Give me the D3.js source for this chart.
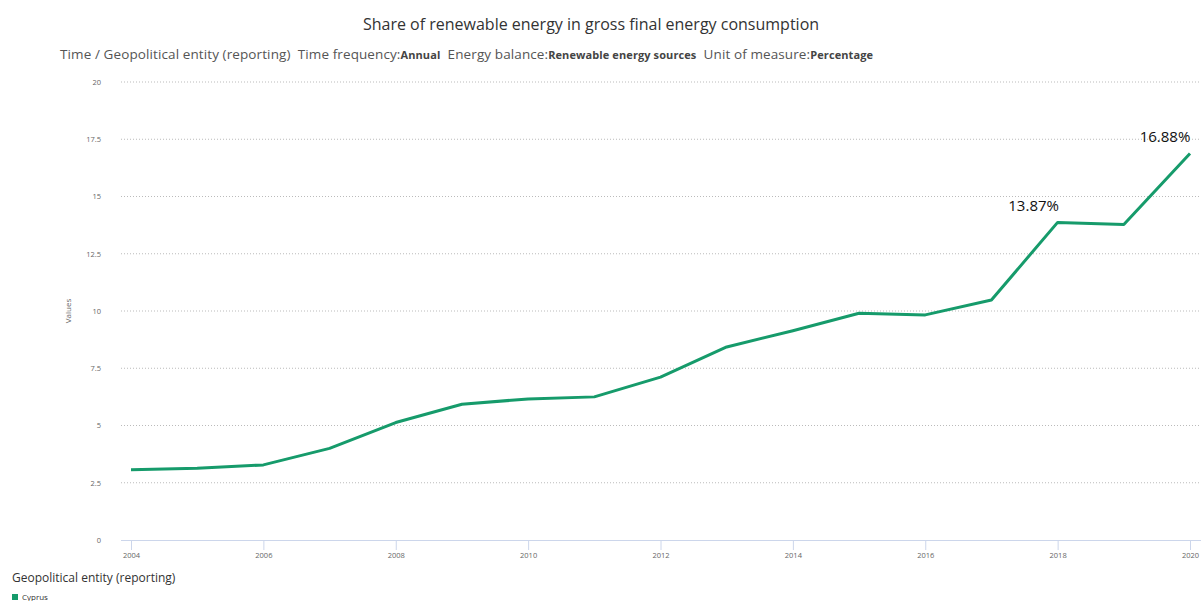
<!DOCTYPE html>
<html><head><meta charset="utf-8">
<script src="https://cdn.jsdelivr.net/npm/d3@7"></script>
<style>body{margin:0;background:#fff;} svg{display:block;} text{white-space:pre;}</style>
</head><body>
<svg id="c" width="1201" height="601"></svg>
<script>
const years = [2004,2005,2006,2007,2008,2009,2010,2011,2012,2013,2014,2015,2016,2017,2018,2019,2020];
const values = [3.07,3.13,3.28,4.0,5.13,5.93,6.16,6.25,7.11,8.43,9.14,9.9,9.83,10.48,13.87,13.78,16.88];
const yTicks = [0,2.5,5,7.5,10,12.5,15,17.5,20];
const xTicks = [2004,2006,2008,2010,2012,2014,2016,2018,2020];
const labelled = [{year:2018,value:13.87},{year:2020,value:16.88}];

const svg = d3.select("#c");
const font = "'Open Sans', 'Noto Sans', sans-serif";
const x = d3.scaleLinear().domain([2004,2020]).range([131,1190]);
const y = d3.scaleLinear().domain([0,20]).range([540,82]);

svg.append("text").attr("x",591).attr("y",30).attr("text-anchor","middle")
  .attr("font-family",font).attr("font-size",16).attr("fill","#333")
  .text("Share of renewable energy in gross final energy consumption");

const sub = svg.append("text").attr("x",60).attr("y",59).attr("font-family",font).attr("font-size",13.5).attr("fill","#555");
sub.append("tspan").text("Time / Geopolitical entity (reporting)  Time frequency:");
sub.append("tspan").attr("font-size",11).attr("font-weight","bold").attr("fill","#444").text("Annual");
sub.append("tspan").text("  Energy balance:");
sub.append("tspan").attr("font-size",11).attr("font-weight","bold").attr("fill","#444").text("Renewable energy sources");
sub.append("tspan").text("  Unit of measure:");
sub.append("tspan").attr("font-size",11).attr("font-weight","bold").attr("fill","#444").text("Percentage");
sub.attr("textLength",813).attr("lengthAdjust","spacing");

// grid
svg.append("g").selectAll("line").data(yTicks.filter(d=>d>0)).join("line")
  .attr("x1",121).attr("x2",1201).attr("y1",d=>y(d)).attr("y2",d=>y(d))
  .attr("stroke","#bbb").attr("stroke-width",1).attr("stroke-dasharray","1,2");

// y axis labels
const ya = svg.append("g").attr("transform","translate(104,0)")
  .call(d3.axisLeft(y).tickValues(yTicks).tickSize(0).tickFormat(d=>d));
ya.select(".domain").remove();
ya.selectAll("text").attr("font-family",font).attr("font-size",7.5).attr("fill","#666").attr("dx",0);

svg.append("text").attr("transform","translate(71,311) rotate(-90)").attr("text-anchor","middle")
  .attr("font-family",font).attr("font-size",8).attr("fill","#666").text("Values");

// x axis
const xa = svg.append("g").attr("transform","translate(0,540)")
  .call(d3.axisBottom(x).tickValues(xTicks).tickFormat(d3.format("d")).tickSize(10).tickSizeOuter(0));
xa.select(".domain").attr("d","M121,0.5H1201").attr("stroke","#ccd6eb");
xa.selectAll(".tick line").attr("stroke","#ccd6eb");
xa.selectAll("text").attr("font-family",font).attr("font-size",7.5).attr("fill","#666").attr("dy","0.3em").attr("y",16);

// line
svg.append("path").datum(values)
  .attr("d",d3.line().x((d,i)=>x(years[i])).y(d=>y(d)))
  .attr("fill","none").attr("stroke","#169b6b").attr("stroke-width",3).attr("stroke-linejoin","round");

// labels
svg.append("g").selectAll("text").data(labelled).join("text")
  .attr("x",(d,i)=>x(d.year)-(i===1?25:24)).attr("y",d=>y(d.value)-11)
  .attr("text-anchor","middle").attr("font-family",font).attr("font-size",15).attr("fill","#111")
  .text(d=>d.value.toFixed(2)+"%");

// legend
svg.append("text").attr("x",12).attr("y",582).attr("font-family",font).attr("font-size",12).attr("fill","#333")
  .text("Geopolitical entity (reporting)");
svg.append("rect").attr("x",12).attr("y",594).attr("width",6).attr("height",6).attr("fill","#169b6b");
svg.append("text").attr("x",22).attr("y",600).attr("font-family",font).attr("font-size",8).attr("fill","#333").text("Cyprus");
</script>
</body></html>
